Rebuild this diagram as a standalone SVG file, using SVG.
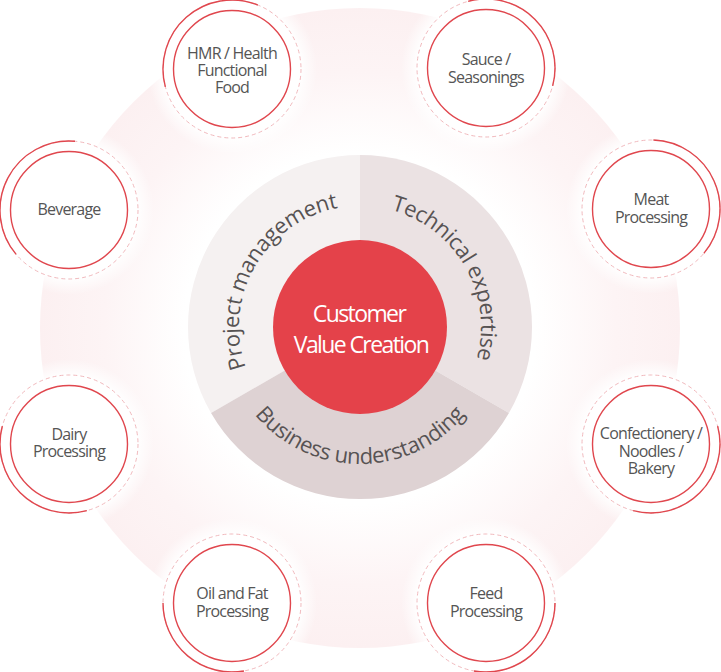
<svg xmlns="http://www.w3.org/2000/svg" width="721" height="672" viewBox="0 0 721 672">
<defs>
  <radialGradient id="bg" cx="360" cy="328" r="320" gradientUnits="userSpaceOnUse">
    <stop offset="0" stop-color="#ffffff"/>
    <stop offset="0.55" stop-color="#ffffff"/>
    <stop offset="0.8" stop-color="#fdf4f5"/>
    <stop offset="1" stop-color="#fcf0f1"/>
  </radialGradient>
  <radialGradient id="halo">
    <stop offset="0" stop-color="#ffffff" stop-opacity="1"/>
    <stop offset="0.8" stop-color="#ffffff" stop-opacity="1"/>
    <stop offset="1" stop-color="#ffffff" stop-opacity="0"/>
  </radialGradient>
  <path id="tp-pm" d="M308.87,436.66 A121,121 0 1 1 429.4,227.88"/>
  <path id="tp-te" d="M290.6,227.88 A121,121 0 1 1 411.13,436.66"/>
  <path id="tp-bu" d="M225.08,303.21 A137,137 0 1 0 494.92,303.21"/>
</defs>
<style>
  .halo { fill: url(#halo); }
  .dash { fill: #ffffff; stroke: #f1b9bd; stroke-width: 1; stroke-dasharray: 4 3; }
  .arc { fill: none; stroke: #e0474e; stroke-width: 1.4; }
  .inner { fill: #ffffff; stroke: #e0474e; stroke-width: 1.4; }
  .lbl { font-family: "Open Sans", "Noto Sans", sans-serif; font-size: 16px; letter-spacing: -0.8px; fill: #555555; text-anchor: middle; }
  .wheel { font-family: "Open Sans", "Noto Sans", sans-serif; font-size: 22px; letter-spacing: -0.3px; fill: #575353; text-anchor: middle; }
  .core { font-family: "Open Sans", "Noto Sans", sans-serif; font-size: 23px; letter-spacing: -1.6px; fill: #ffffff; text-anchor: middle; }
</style>

<circle cx="360" cy="328" r="320" fill="url(#bg)"/>

<g id="halos">
  <circle class="halo" cx="232" cy="69" r="85"/>
  <circle class="halo" cx="486" cy="68" r="85"/>
  <circle class="halo" cx="69" cy="210" r="85"/>
  <circle class="halo" cx="651" cy="209" r="85"/>
  <circle class="halo" cx="69" cy="444" r="85"/>
  <circle class="halo" cx="651" cy="444" r="85"/>
  <circle class="halo" cx="232" cy="603" r="85"/>
  <circle class="halo" cx="486" cy="603" r="85"/>
</g>

<g id="wheel">
  <path d="M360,327 L211.04,413 A172,172 0 0 1 360,155 Z" fill="#f5f1f1"/>
  <path d="M360,327 L360,155 A172,172 0 0 1 508.96,413 Z" fill="#ebe2e3"/>
  <path d="M360,327 L508.96,413 A172,172 0 0 1 211.04,413 Z" fill="#ded2d3"/>
  <text class="wheel"><textPath href="#tp-pm" startOffset="50%">Project management</textPath></text>
  <text class="wheel"><textPath href="#tp-te" startOffset="50%">Technical expertise</textPath></text>
  <text class="wheel"><textPath href="#tp-bu" startOffset="50%">Business understanding</textPath></text>
</g>

<g id="core">
  <circle cx="360" cy="327" r="87" fill="#e4424a"/>
  <text class="core" x="359" y="322">Customer</text>
  <text class="core" x="361" y="353">Value Creation</text>
</g>

<g id="node-hmr" transform="translate(232,69)">
  <circle class="dash" r="69"/>
  <path class="arc" d="M-66.65,17.86 A69,69 0 0 1 25.85,-63.97"/>
  <circle class="inner" r="58.5"/>
  <text class="lbl"><tspan x="0" y="-10">HMR / Health</tspan><tspan x="0" y="7">Functional</tspan><tspan x="0" y="24">Food</tspan></text>
</g>

<g id="node-sauce" transform="translate(486,68)">
  <circle class="dash" r="69"/>
  <path class="arc" d="M-17.86,-66.65 A69,69 0 0 1 66.65,17.86"/>
  <circle class="inner" r="58.5"/>
  <text class="lbl"><tspan x="0" y="-3">Sauce /</tspan><tspan x="0" y="14.5">Seasonings</tspan></text>
</g>

<g id="node-beverage" transform="translate(69,210)">
  <circle class="dash" r="69"/>
  <path class="arc" d="M-52.86,44.35 A69,69 0 0 1 6.01,-68.74"/>
  <circle class="inner" r="58.5"/>
  <text class="lbl" x="0" y="4.5">Beverage</text>
</g>

<g id="node-meat" transform="translate(651,209)">
  <circle class="dash" r="69"/>
  <path class="arc" d="M2.41,-68.96 A69,69 0 0 1 52.86,44.35"/>
  <circle class="inner" r="58.5"/>
  <text class="lbl"><tspan x="0" y="-4">Meat</tspan><tspan x="0" y="13.5">Processing</tspan></text>
</g>

<g id="node-dairy" transform="translate(69,444)">
  <circle class="dash" r="69"/>
  <path class="arc" d="M17.86,66.65 A69,69 0 0 1 -66.65,-17.86"/>
  <circle class="inner" r="58.5"/>
  <text class="lbl"><tspan x="0" y="-4.5">Dairy</tspan><tspan x="0" y="13">Processing</tspan></text>
</g>

<g id="node-confectionery" transform="translate(651,444)">
  <circle class="dash" r="69"/>
  <path class="arc" d="M66.65,-17.86 A69,69 0 0 1 -17.86,66.65"/>
  <circle class="inner" r="58.5"/>
  <text class="lbl"><tspan x="0" y="-5">Confectionery /</tspan><tspan x="0" y="12.5">Noodles /</tspan><tspan x="0" y="30">Bakery</tspan></text>
</g>

<g id="node-oil" transform="translate(232,603)">
  <circle class="dash" r="69"/>
  <path class="arc" d="M11.98,67.95 A69,69 0 0 1 -69,0"/>
  <circle class="inner" r="58.5"/>
  <text class="lbl"><tspan x="0" y="-4">Oil and Fat</tspan><tspan x="0" y="13.5">Processing</tspan></text>
</g>

<g id="node-feed" transform="translate(486,603)">
  <circle class="dash" r="69"/>
  <path class="arc" d="M69,0 A69,69 0 0 1 -11.98,67.95"/>
  <circle class="inner" r="58.5"/>
  <text class="lbl"><tspan x="0" y="-4">Feed</tspan><tspan x="0" y="13.5">Processing</tspan></text>
</g>

<g id="connectors"></g>
</svg>
